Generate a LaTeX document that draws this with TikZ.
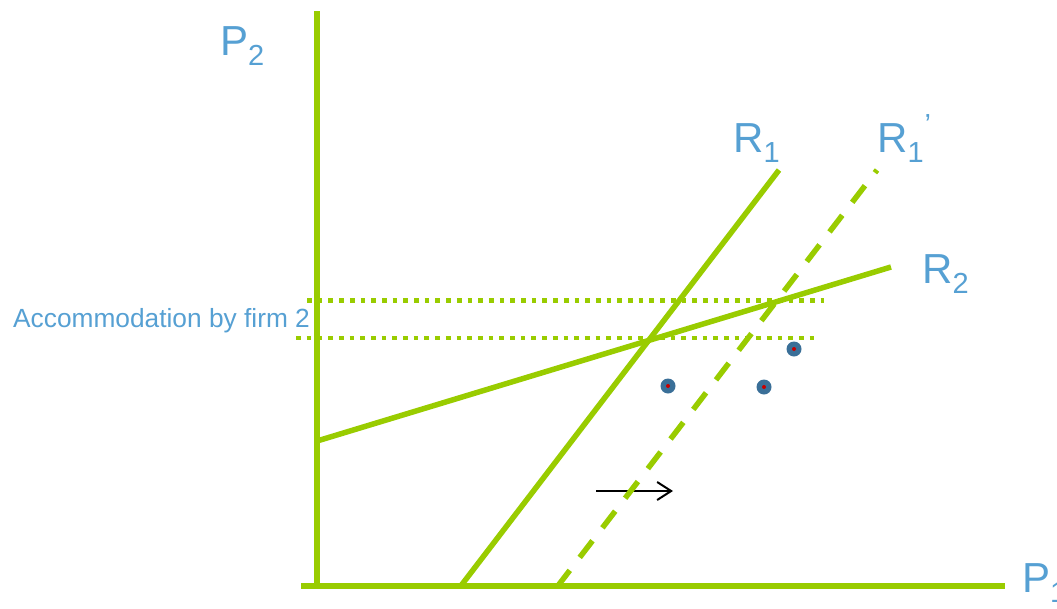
\documentclass[tikz,border=0pt]{standalone}
\usepackage{fontspec}
\setmainfont{Liberation Sans}
\usetikzlibrary{arrows.meta}
\definecolor{grn}{RGB}{153,204,0}
\definecolor{txtblue}{RGB}{86,160,211}
\definecolor{dotblue}{RGB}{58,111,152}
\definecolor{dotred}{RGB}{200,0,0}
\newcommand{\bigsz}{\fontsize{42}{42}\selectfont}
\newcommand{\subsz}{\fontsize{29}{29}\selectfont}
\newcommand{\lsub}[1]{\raisebox{-10pt}{\subsz #1}}
\begin{document}
\begin{tikzpicture}[x=1pt,y=-1pt,
  axisline/.style={grn, line width=6pt},
  rline/.style={grn, line width=5.5pt},
  rdash/.style={grn, line width=5.5pt, dash pattern=on 21pt off 16.3pt},
  dotline/.style={grn, line width=4.7pt, dash pattern=on 4.7pt off 6pt},
  lbl/.style={txtblue, inner sep=0pt, anchor=base west, font=\bigsz},
  small/.style={txtblue, inner sep=0pt, anchor=base west, font=\fontsize{26.3}{26.3}\selectfont},
  ptblue/.style={circle, fill=dotblue, draw=none, minimum size=15pt, inner sep=0pt},
  ptred/.style={circle, fill=dotred, draw=none, minimum size=4pt, inner sep=0pt},
  shiftarrow/.style={black, line width=2pt, -{Straight Barb[length=14pt,width=18pt]}}
]
\useasboundingbox (0,0) rectangle (1057,608);
% coordinates
\coordinate (ytop) at (317,11);
\coordinate (ybot) at (317,589);
\coordinate (xl) at (301,586);
\coordinate (xr) at (1005,586);
\coordinate (r1a) at (460,587);
\coordinate (r1b) at (779,170);
\coordinate (r1pa) at (557,587);
\coordinate (r1pb) at (877,170);
\coordinate (r2a) at (317,441);
\coordinate (r2b) at (891,267);
\coordinate (ua) at (307,300.5);
\coordinate (ub) at (824,300.5);
\coordinate (la) at (296,338);
\coordinate (lb) at (814,338);
\coordinate (arra) at (596,491);
\coordinate (arrb) at (673,491);
% arrow (behind the dashed line)
\draw[shiftarrow] (arra) -- (arrb);
% axes
\draw[axisline] (ytop) -- (ybot);
\draw[axisline] (xl) -- (xr);
% reaction lines
\draw[rline] (r1a) -- (r1b);
\draw[rdash] (r1pa) -- (r1pb);
\draw[rline] (r2a) -- (r2b);
% dotted accommodation lines
\draw[dotline] (ua) -- (ub);
\draw[dotline] (la) -- (lb);
% points
\node[ptblue] (d1) at (668,386) {};
\node[ptred] (d1c) at (d1) {};
\node[ptblue] (d2) at (764,387) {};
\node[ptred] (d2c) at (d2) {};
\node[ptblue] (d3) at (794,349) {};
\node[ptred] (d3c) at (d3) {};
% labels
\node[lbl] (p2) at (220,55) {P\lsub{2}};
\node[lbl] (p1) at (1022,592) {P\lsub{1}};
\node[lbl] (r1) at (733,152) {R\lsub{1}};
\node[lbl] (r1p) at (877,152) {R\lsub{1}\kern1pt\raisebox{18pt}{\subsz ’}};
\node[lbl] (r2) at (922,283) {R\lsub{2}};
\node[small] (acc) at (13,327) {Accommodation by firm 2};
\end{tikzpicture}
\end{document}
